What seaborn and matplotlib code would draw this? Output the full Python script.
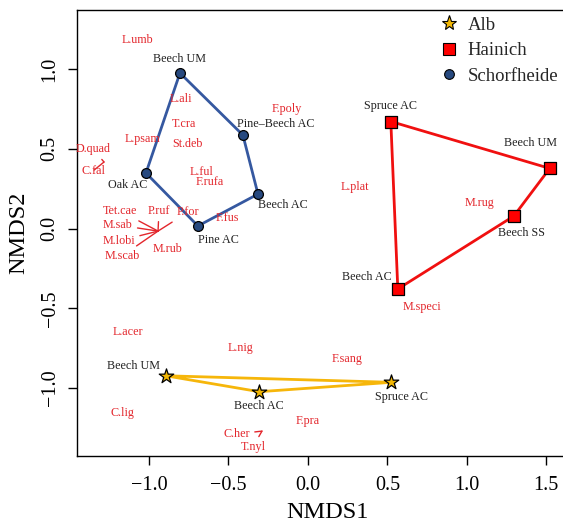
import matplotlib
matplotlib.use("Agg")
import matplotlib.pyplot as plt
import pandas as pd
import seaborn as sns
from matplotlib.lines import Line2D

# site scores (NMDS), listed in hull order per region
site_region = ["Alb"] * 3 + ["Hainich"] * 4 + ["Schorfheide"] * 5
site_name = ["Beech UM", "Beech AC", "Spruce AC",
             "Spruce AC", "Beech UM", "Beech SS", "Beech AC",
             "Beech UM", "Pine\u2013Beech AC", "Beech AC", "Pine AC", "Oak AC"]
site_x = [-0.895, -0.306, 0.526,
          0.522, 1.522, 1.296, 0.566,
          -0.805, -0.409, -0.314, -0.692, -1.019]
site_y = [-0.923, -1.023, -0.964,
          0.671, 0.377, 0.078, -0.379,
          0.975, 0.586, 0.216, 0.016, 0.348]

# species label positions
species = ["L.umb", "L.ali", "F.poly", "T.cra", "L.psam", "St.deb", "D.quad", "C.fal",
           "L.ful", "F.rufa", "Tet.cae", "P.ruf", "P.for", "F.fus", "M.sab", "M.lobi",
           "M.rub", "M.scab", "L.plat", "M.rug", "M.speci", "L.acer", "L.nig", "C.lig",
           "C.her", "T.nyl", "F.sang", "F.pra"]
species_x = [-1.075, -0.799, -0.132, -0.780, -1.038, -0.755, -1.352, -1.352,
             -0.667, -0.616, -1.182, -0.937, -0.755, -0.509, -1.195, -1.189,
             -0.881, -1.170, 0.296, 1.082, 0.717, -1.132, -0.421, -1.170,
             -0.447, -0.346, 0.245, 0.0]
species_y = [1.182, 0.812, 0.749, 0.655, 0.561, 0.530, 0.498, 0.361,
             0.354, 0.292, 0.110, 0.110, 0.103, 0.066, 0.022, -0.078,
             -0.129, -0.172, 0.260, 0.160, -0.492, -0.649, -0.749, -1.157,
             -1.288, -1.370, -0.818, -1.207]

# true positions of species whose labels were moved (leader lines)
moved_species = ["D.quad", "C.fal", "Tet.cae", "P.ruf", "P.for", "M.sab", "M.lobi",
                 "M.scab", "C.her", "T.nyl"]
moved_x = [-1.283, -1.283, -0.943, -0.943, -0.943, -0.943, -0.943, -0.943, -0.289, -0.289]
moved_y = [0.417, 0.417, -0.016, -0.016, -0.016, -0.016, -0.016, -0.016, -1.270, -1.270]

regions = ["Alb", "Hainich", "Schorfheide"]

# label offsets in pixels (dx, dy up)
label_offset = [(-32, 10), (0, -14), (10, -15),
                (0, 16), (-19, 25), (8, -17), (-31, 12),
                (0, 14), (33, 11), (25, -11), (21, -14), (-18, -12)]

face = {"Alb": "#F2B705", "Hainich": "#FF0000", "Schorfheide": "#27497F"}
edge_line = {"Alb": "#F6B60A", "Hainich": "#F01010", "Schorfheide": "#3558A0"}
markers = {"Alb": "*", "Hainich": "s", "Schorfheide": "o"}
sizes = {"Alb": 120, "Hainich": 72, "Schorfheide": 50}
sp_color = "#E3262C"

sns.set_theme(style="white")
plt.rcParams["font.family"] = ["Liberation Serif", "DejaVu Serif"]

fig = plt.figure(figsize=(5.63, 5.23), dpi=100)
ax = fig.add_axes([77 / 563, 67 / 523, (578 - 77) / 563, 446 / 523])

sites = pd.DataFrame({"region": site_region, "name": site_name, "x": site_x, "y": site_y})

for reg in regions:
    d = sites[sites.region == reg]
    xs = list(d.x) + [d.x.iloc[0]]
    ys = list(d.y) + [d.y.iloc[0]]
    ax.plot(xs, ys, color=edge_line[reg], lw=2.0, zorder=2, solid_joinstyle="round")

for reg in regions:
    d = sites[sites.region == reg]
    sns.scatterplot(data=d, x="x", y="y", marker=markers[reg], color=face[reg],
                    s=sizes[reg], edgecolor="black", linewidth=0.9, ax=ax, zorder=3,
                    legend=False)

for i, row in sites.iterrows():
    dx, dy = label_offset[i]
    ax.annotate(row["name"], (row.x, row.y), xytext=(dx, dy), textcoords="offset pixels",
                ha="center", va="center", fontsize=8.7, color="#222222", zorder=4)

for name, sx, sy in zip(species, species_x, species_y):
    if name in moved_species:
        k = moved_species.index(name)
        ax.annotate(name, (moved_x[k], moved_y[k]), xytext=(sx, sy), textcoords="data",
                    ha="center", va="center", fontsize=8.7, color=sp_color,
                    arrowprops=dict(arrowstyle="-", color=sp_color, lw=1.0,
                                    shrinkA=1, shrinkB=0))
    else:
        ax.text(sx, sy, name, ha="center", va="center", fontsize=8.7, color=sp_color)

ax.set_xlim(-1.453, 1.70)
ax.set_ylim(-1.426, 1.370)
ax.set_xticks([-1.0, -0.5, 0.0, 0.5, 1.0, 1.5])
ax.set_yticks([-1.0, -0.5, 0.0, 0.5, 1.0])
ax.set_xticklabels(["\u22121.0", "\u22120.5", "0.0", "0.5", "1.0", "1.5"])
ax.set_yticklabels(["\u22121.0", "\u22120.5", "0.0", "0.5", "1.0"], rotation=90, va="center")
ax.tick_params(axis="both", direction="out", length=6.5, width=1, labelsize=14.5,
               color="black", labelcolor="black", pad=6, bottom=True, left=True)
ax.tick_params(axis="x", pad=8)
ax.set_xlabel("NMDS1", fontsize=17.5, color="black", labelpad=5)
ax.set_ylabel("NMDS2", fontsize=17.5, color="black", labelpad=8)
for sp in ax.spines.values():
    sp.set_color("black")
    sp.set_linewidth(1.0)
ax.grid(False)

handles = [Line2D([], [], ls="none", marker=markers[r], markerfacecolor=face[r],
                  markeredgecolor="black", markeredgewidth=0.8,
                  markersize={"Alb": 11, "Hainich": 9, "Schorfheide": 7}[r]) for r in regions]
fig.legend(handles, regions, loc="upper left", bbox_to_anchor=(430 / 563, 1 - 9 / 523),
           frameon=False, fontsize=13.5, handletextpad=0.4, labelspacing=0.45,
           handlelength=1.2, borderaxespad=0)

fig.savefig("out.png", dpi=100)
